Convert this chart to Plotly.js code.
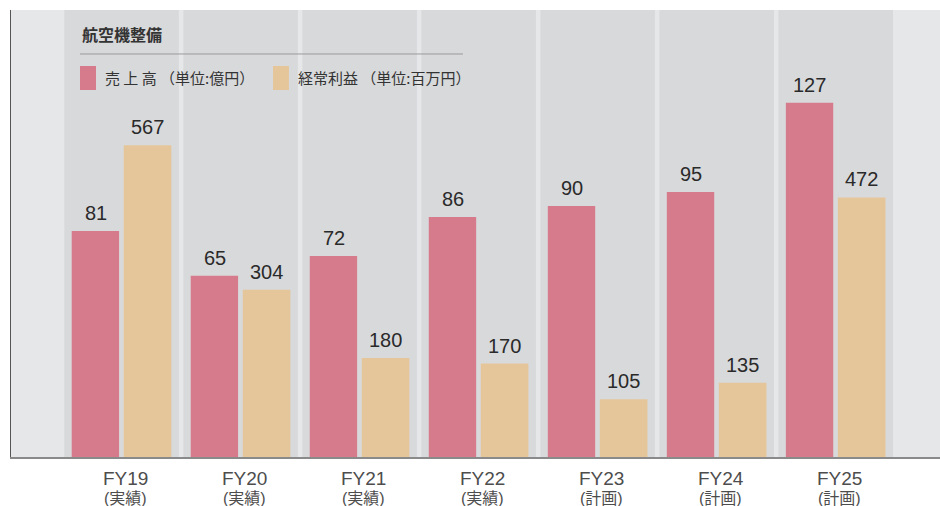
<!DOCTYPE html>
<html>
<head>
<meta charset="utf-8">
<script src="https://cdn.plot.ly/plotly-3.0.1.min.js"></script>
<style>html,body{margin:0;padding:0;background:#fff;}#chart{width:940px;height:506px;}</style>
</head>
<body>
<div id="chart"></div>
<script>
const categories = ["FY19", "FY20", "FY21", "FY22", "FY23", "FY24", "FY25"];
const periodLabels = ["(実績)", "(実績)", "(実績)", "(実績)", "(計画)", "(計画)", "(計画)"];
const salesValues = [81, 65, 72, 86, 90, 95, 127];        // 売上高 (億円)
const profitValues = [567, 304, 180, 170, 105, 135, 472];  // 経常利益 (百万円)
const chartTitle = "航空機整備";
const salesName = "売 上 高 （単位:億円）";
const profitName = "経常利益 （単位:百万円）";

const PINK = "#d57b8b";
const TAN = "#e5c69b";
const CJK = "'Noto Sans CJK JP', 'Liberation Sans', sans-serif";
const NUM = "'Liberation Sans', Arial, sans-serif";
const TICK = "'Liberation Sans', 'Noto Sans CJK JP', sans-serif";

const traces = [
  {
    type: "bar", name: salesName, x: categories, y: salesValues,
    xaxis: "x", yaxis: "y",
    marker: {color: PINK}, width: 0.398, offset: -0.42,
    hoverinfo: "x+y", showlegend: false
  },
  {
    type: "bar", name: profitName, x: categories, y: profitValues,
    xaxis: "x", yaxis: "y2",
    marker: {color: TAN}, width: 0.40, offset: 0.017,
    hoverinfo: "x+y", showlegend: false
  }
];

const shapes = categories.map((c, i) => ({
  type: "rect", xref: "x", yref: "paper", layer: "below",
  x0: i - 0.482, x1: i + 0.48, y0: 0, y1: 1,
  fillcolor: "#d8d9db", line: {width: 0}
}));
// title rule
shapes.push({type: "line", xref: "paper", yref: "paper", x0: 0.0743, x1: 0.4865, y0: 0.9016, y1: 0.9016,
  line: {color: "#9a9a9c", width: 1}, layer: "above"});
// legend swatches
shapes.push({type: "rect", xref: "paper", yref: "paper", x0: 0.0743, x1: 0.0915, y0: 0.821, y1: 0.8747,
  fillcolor: PINK, line: {width: 0}, layer: "above"});
shapes.push({type: "rect", xref: "paper", yref: "paper", x0: 0.282, x1: 0.2992, y0: 0.821, y1: 0.8747,
  fillcolor: TAN, line: {width: 0}, layer: "above"});

const annotations = [];
categories.forEach((c, i) => {
  annotations.push({
    x: c, y: salesValues[i], xref: "x", yref: "y", text: String(salesValues[i]),
    showarrow: false, xanchor: "center", yanchor: "bottom", xshift: -26, yshift: 5,
    font: {family: NUM, size: 20, color: "#2a2a2a"}
  });
  annotations.push({
    x: c, y: profitValues[i], xref: "x", yref: "y2", text: String(profitValues[i]),
    showarrow: false, xanchor: "center", yanchor: "bottom", xshift: 26, yshift: 5,
    font: {family: NUM, size: 20, color: "#2a2a2a"}
  });
  // category labels (two lines, tight spacing as in the reference)
  annotations.push({
    x: c, y: 0, xref: "x", yref: "paper", text: c,
    showarrow: false, xanchor: "center", yanchor: "middle", xshift: 4, yshift: -21,
    font: {family: TICK, size: 19, color: "#4d4d4d"}
  });
  annotations.push({
    x: c, y: 0, xref: "x", yref: "paper", text: periodLabels[i],
    showarrow: false, xanchor: "center", yanchor: "middle", xshift: 4, yshift: -41.5,
    font: {family: TICK, size: 16, color: "#4d4d4d"}
  });
});
annotations.push({xref: "paper", yref: "paper", x: 0.0743, y: 0.947, xanchor: "left", yanchor: "middle",
  text: chartTitle, showarrow: false, font: {family: CJK, size: 16, color: "#333", weight: "bold"}});
annotations.push({xref: "paper", yref: "paper", x: 0.0985, y: 0.848, xanchor: "left", yanchor: "middle",
  text: salesName, showarrow: false, font: {family: CJK, size: 15, color: "#333"}});
annotations.push({xref: "paper", yref: "paper", x: 0.3065, y: 0.848, xanchor: "left", yanchor: "middle",
  text: profitName, showarrow: false, font: {family: CJK, size: 15, color: "#333"}});

const layout = {
  width: 940, height: 506,
  margin: {l: 11, r: 0, t: 10, b: 49, pad: 0},
  paper_bgcolor: "#ffffff",
  plot_bgcolor: "#e6e7e9",
  showlegend: false,
  xaxis: {
    type: "category", range: [-0.93, 6.875], fixedrange: true,
    showticklabels: false, ticks: "", showgrid: false, zeroline: false,
    showline: true, linecolor: "#8a8a8a", linewidth: 1.5
  },
  yaxis: {
    range: [0, 160.2], showgrid: false, zeroline: false, showticklabels: false, ticks: "",
    showline: true, linecolor: "#555", linewidth: 1, fixedrange: true
  },
  yaxis2: {
    range: [0, 812.7], overlaying: "y", side: "right", showgrid: false, zeroline: false,
    showticklabels: false, ticks: "", showline: false, fixedrange: true
  },
  shapes: shapes,
  annotations: annotations
};

Plotly.newPlot("chart", traces, layout, {displayModeBar: false, staticPlot: true});
</script>
</body>
</html>
